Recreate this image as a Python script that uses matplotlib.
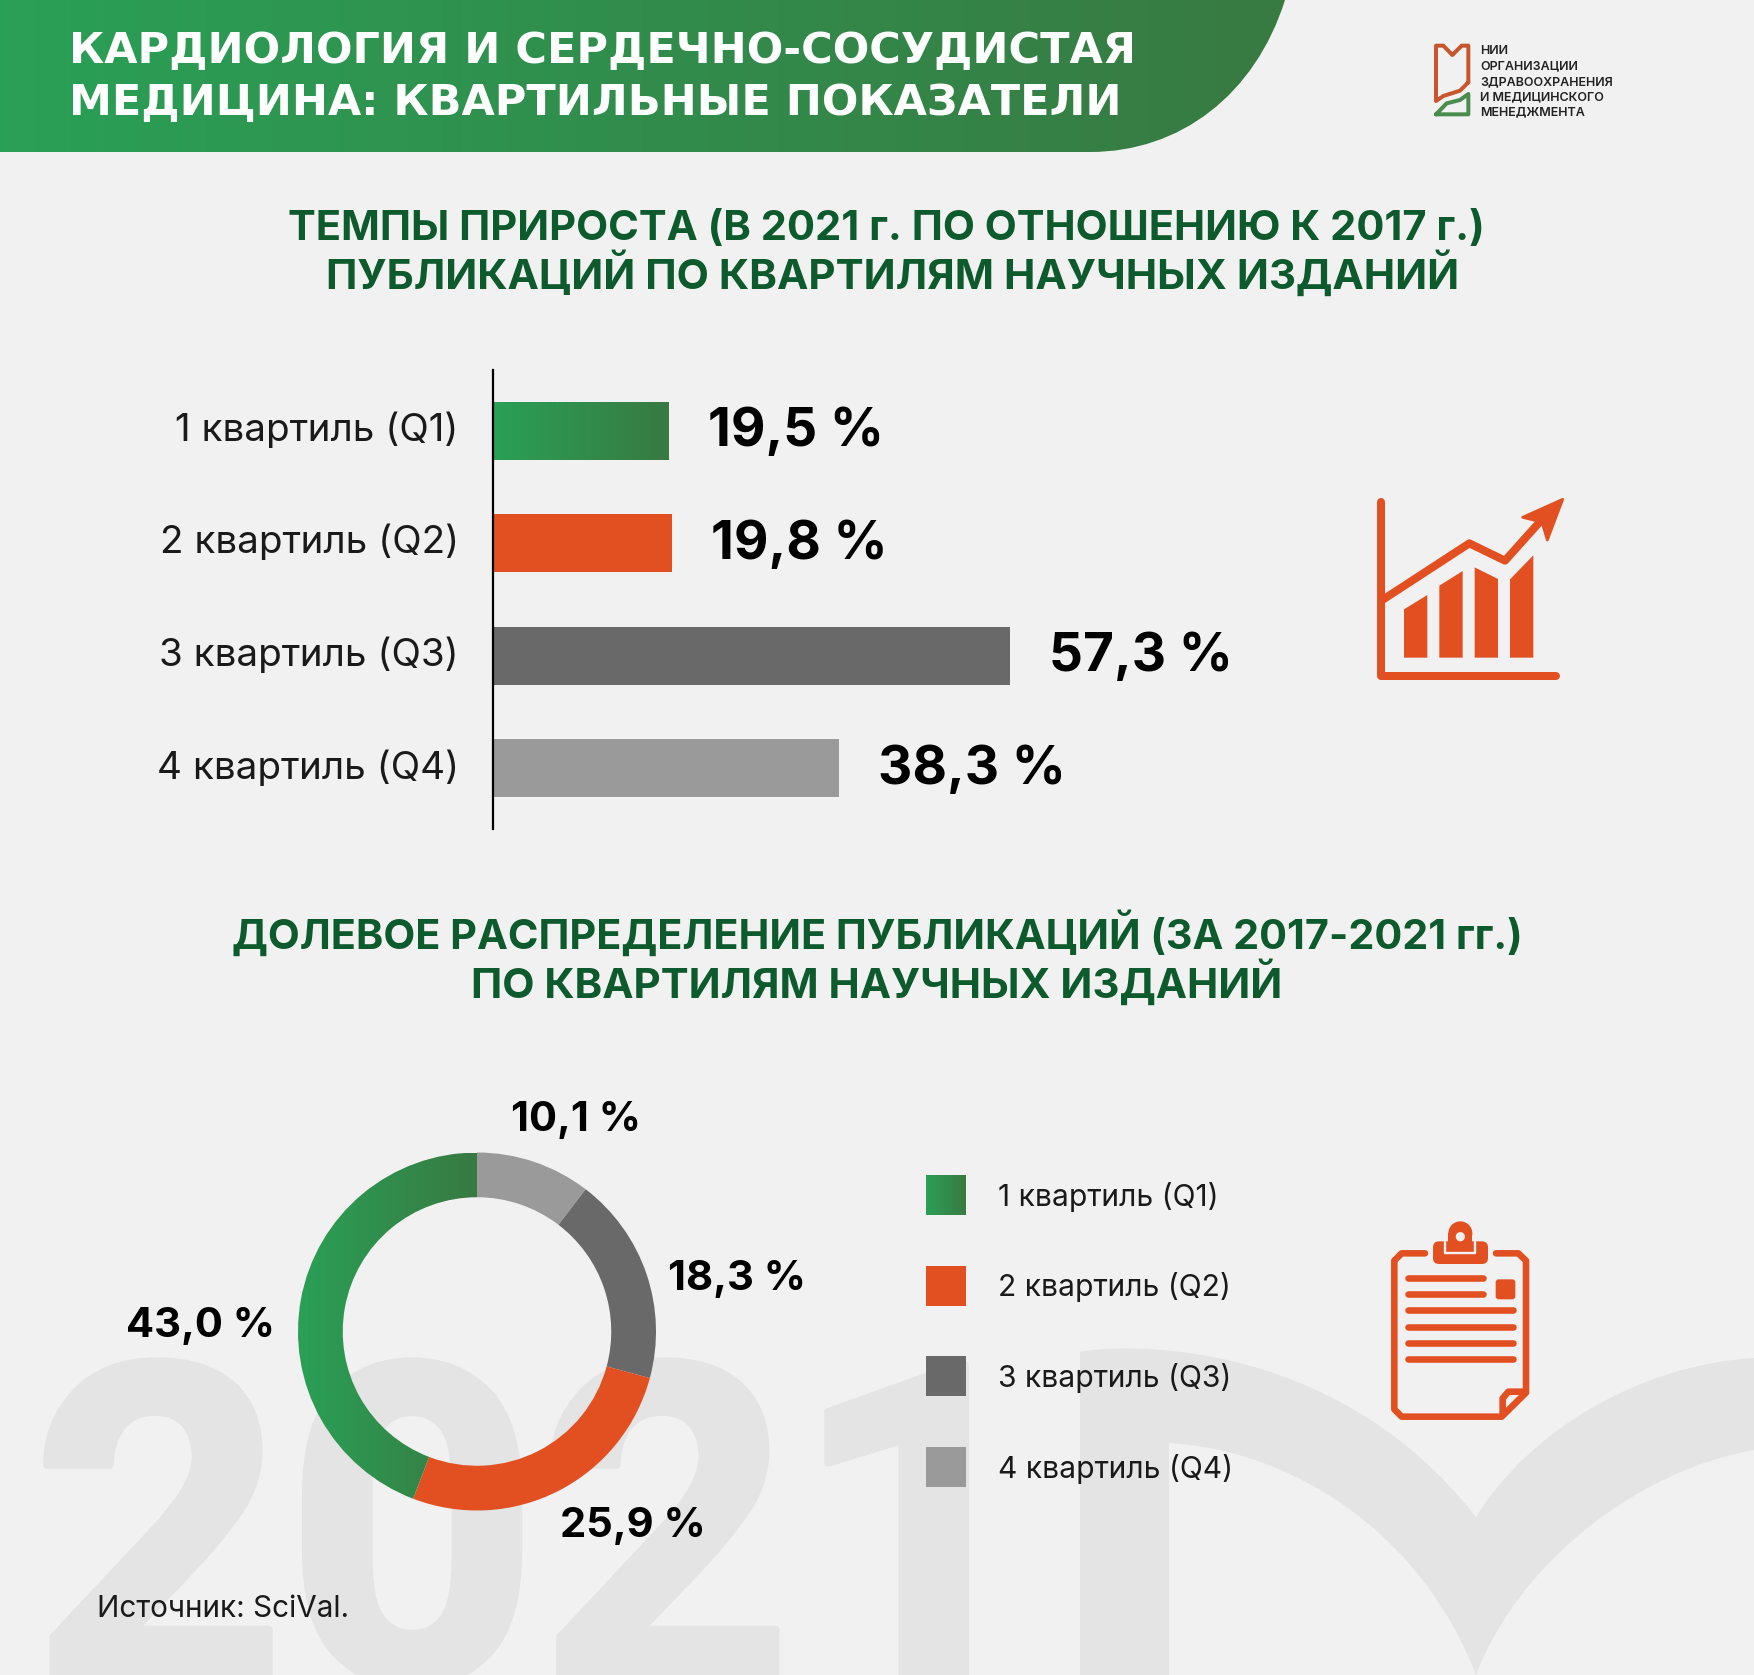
import numpy as np
import matplotlib
matplotlib.use('Agg')
import matplotlib.pyplot as plt
import matplotlib.patheffects as pe
from matplotlib.colors import LinearSegmentedColormap
from matplotlib.patches import Polygon, Rectangle, PathPatch, FancyBboxPatch, Circle
from matplotlib.path import Path

W, H = 1754, 1675
FONT = ['Inter', 'DejaVu Sans']
plt.rcParams['font.family'] = FONT

# данные
quartiles = ['1 квартиль (Q1)', '2 квартиль (Q2)', '3 квартиль (Q3)', '4 квартиль (Q4)']
growth = [19.5, 19.8, 57.3, 38.3]
share = [10.1, 18.3, 25.9, 43.0]
bar_colors = ['#2fa35a', '#e25022', '#696969', '#9a9a9a']
share_colors = ['#9a9a9a', '#696969', '#e25022', '#2fa35a']

BG = '#f1f1f1'
ORANGE = '#e25022'
TITLE = '#0d5a2c'
WATER = '#e4e4e4'
green_grad = LinearSegmentedColormap.from_list('gr', ['#2aa056', '#387a42'])
grad = np.linspace(0, 1, 256).reshape(1, -1)


def fill_grad(ax, patch, extent):
    im = ax.imshow(grad, cmap=green_grad, extent=extent, aspect='auto', zorder=patch.get_zorder())
    im.set_clip_path(patch)


fig = plt.figure(figsize=(W / 100, H / 100), dpi=100, facecolor=BG)
bg = fig.add_axes([0, 0, 1, 1])
bg.set_axis_off()

# фон: 2021 и контур логотипа
bg.text(32, 1680, '2021', fontsize=318, fontweight='bold', family='Roboto', color=WATER,
        ha='left', va='baseline', clip_on=True, zorder=0,
        path_effects=[pe.withStroke(linewidth=6, foreground=WATER)])
mark = Path(
    [(1080, 1352), (1110, 1345), (1330, 1330), (1476, 1517),
     (1530, 1430), (1640, 1365), (1754, 1358),
     (1754, 1450), (1754, 1450), (1754, 1450),
     (1640, 1470), (1520, 1560), (1476, 1675),
     (1420, 1530), (1290, 1450), (1169, 1443),
     (1169, 1675), (1080, 1675), (1080, 1352)],
    [Path.MOVETO, Path.CURVE4, Path.CURVE4, Path.CURVE4,
     Path.CURVE4, Path.CURVE4, Path.CURVE4,
     Path.CURVE4, Path.CURVE4, Path.CURVE4,
     Path.CURVE4, Path.CURVE4, Path.CURVE4,
     Path.CURVE4, Path.CURVE4, Path.CURVE4,
     Path.LINETO, Path.LINETO, Path.CLOSEPOLY])
bg.add_patch(PathPatch(mark, fc=WATER, ec='none', zorder=0))

# шапка
head = Path([(0, 0), (1285, 0), (1255, 95), (1180, 152), (1090, 152), (0, 152), (0, 0)],
            [Path.MOVETO, Path.LINETO, Path.CURVE4, Path.CURVE4, Path.CURVE4, Path.LINETO, Path.CLOSEPOLY])
hp = PathPatch(head, fc='none', ec='none')
bg.add_patch(hp)
fill_grad(bg, hp, (0, 1285, 152, 0))
bg.text(69, 63, 'КАРДИОЛОГИЯ И СЕРДЕЧНО-СОСУДИСТАЯ', fontsize=31, fontweight='bold', family='DejaVu Sans', color='white')
bg.text(69, 115, 'МЕДИЦИНА: КВАРТИЛЬНЫЕ ПОКАЗАТЕЛИ', fontsize=31, fontweight='bold', family='DejaVu Sans', color='white')

# заголовки
bg.text(886, 240, 'ТЕМПЫ ПРИРОСТА (В 2021 г. ПО ОТНОШЕНИЮ К 2017 г.)', fontsize=30, fontweight='bold', color=TITLE, ha='center')
bg.text(893, 289, 'ПУБЛИКАЦИЙ ПО КВАРТИЛЯМ НАУЧНЫХ ИЗДАНИЙ', fontsize=30.3, fontweight='bold', color=TITLE, ha='center')
bg.text(877, 949, 'ДОЛЕВОЕ РАСПРЕДЕЛЕНИЕ ПУБЛИКАЦИЙ (ЗА 2017-2021 гг.)', fontsize=29.8, fontweight='bold', color=TITLE, ha='center')
bg.text(877, 998, 'ПО КВАРТИЛЯМ НАУЧНЫХ ИЗДАНИЙ', fontsize=30.2, fontweight='bold', color=TITLE, ha='center')


def lz(x, y):
    return 1340 + x / 3, 20 + y / 3


def stroke(pts, color, lw, conv):
    a = np.array([conv(*p) for p in pts])
    bg.plot(a[:, 0], a[:, 1], color=color, lw=lw * 0.72, solid_capstyle='round', solid_joinstyle='round')


# логотип
stroke([(385, 187), (360, 212), (310, 228), (288, 243), (288, 77), (310, 77), (337, 105), (365, 77), (385, 77), (385, 187)], '#c8562c', 4, lz)
stroke([(288, 283), (385, 283), (385, 222), (360, 240), (320, 250), (288, 283)], '#4a8c4e', 4, lz)
logo_lines = ['НИИ', 'ОРГАНИЗАЦИИ', 'ЗДРАВООХРАНЕНИЯ', 'И МЕДИЦИНСКОГО', 'МЕНЕДЖМЕНТА']
for line, yy in zip(logo_lines, [54, 69.5, 85, 100, 115]):
    bg.text(1480, yy, line, fontsize=9, fontweight='semibold', color='#222222')


# иконка графика
def cz(x, y):
    return 1340 + x / 3, 470 + y / 3


stroke([(124, 95), (124, 618), (648, 618)], ORANGE, 8, cz)
stroke([(124, 392), (388, 220), (495, 272), (600, 155)], ORANGE, 8, cz)
bg.add_patch(Polygon([cz(*p) for p in [(668, 88), (548, 142), (606, 156), (622, 210)]], fc=ORANGE, ec=ORANGE, lw=2, joinstyle='round'))
for poly in ([(192, 418), (262, 375), (262, 563), (192, 563)],
             [(298, 347), (368, 303), (368, 563), (298, 563)],
             [(404, 292), (474, 327), (474, 563), (404, 563)],
             [(510, 328), (580, 256), (580, 563), (510, 563)]):
    bg.add_patch(Polygon([cz(*p) for p in poly], fc=ORANGE, ec='none'))


# иконка планшета
def dz(x, y):
    return 1360 + x / 3, 1200 + y / 3


stroke([(195, 160), (125, 160), (103, 182), (103, 628), (125, 650), (425, 650), (498, 578), (498, 182), (475, 160), (408, 160)], ORANGE, 6.6, dz)
stroke([(428, 640), (428, 595), (445, 575), (495, 575)], ORANGE, 6.6, dz)
for yy, x2 in zip([234, 283, 331, 380, 429, 478], [370, 370, 458, 458, 458, 458]):
    stroke([(145, yy), (x2, yy)], ORANGE, 6.6, dz)
x0, y0 = dz(225, 130)
x1, y1 = dz(378, 186)
bg.add_patch(FancyBboxPatch((x0, y0), x1 - x0, y1 - y0, boxstyle='round,pad=2,rounding_size=6', fc=ORANGE, ec='none'))
stroke([(255, 125), (255, 160), (345, 160), (345, 125)], BG, 2.4, dz)
x0, y0 = dz(265, 100)
x1, y1 = dz(337, 156)
bg.add_patch(Rectangle((x0, y0), x1 - x0, y1 - y0, fc=ORANGE, ec='none'))
bg.add_patch(Circle(dz(301, 100), 12, fc=ORANGE, ec='none'))
bg.add_patch(Circle(dz(301, 110), 4.6, fc=BG, ec='none'))
x0, y0 = dz(410, 241)
x1, y1 = dz(463, 295)
bg.add_patch(FancyBboxPatch((x0, y0), x1 - x0, y1 - y0, boxstyle='round,pad=1,rounding_size=3', fc=ORANGE, ec='none'))

# легенда
for i, (lab, col) in enumerate(zip(quartiles, bar_colors)):
    yc = [1195, 1285.5, 1376, 1466.5][i]
    r = Rectangle((926, yc - 20), 40, 40, fc=col, ec='none')
    bg.add_patch(r)
    if i == 0:
        r.set_facecolor('none')
        fill_grad(bg, r, (926, 966, yc + 20, yc - 20))
    bg.text(998, yc + 2, lab, fontsize=21.6, color='#1a1a1a', va='center')

# подписи кольца
for lab, (xx, yy) in zip(share, [(576, 1120), (737, 1279), (633, 1526), (201, 1326)]):
    bg.text(xx, yy, f'{lab:.1f} %'.replace('.', ','), fontsize=30, fontweight='bold', color='black', ha='center', va='center')

bg.text(97, 1609, 'Источник: SciVal.', fontsize=21.4, color='#1a1a1a', va='center')

bg.set_xlim(0, W)
bg.set_ylim(H, 0)

# столбцы
ax = fig.add_axes([493.5 / W, 1 - 829 / H, 640 / W, 459 / H])
ax.patch.set_alpha(0)
pos = np.arange(len(growth))
bars = ax.barh(pos, growth, height=0.515, color=bar_colors)
bars[0].set_facecolor('none')
fill_grad(ax, bars[0], (0, growth[0], pos[0] + 0.2575, pos[0] - 0.2575))
ax.set_xlim(0, 640 / 9.02)
ax.set_ylim(3.54, -0.54)
ax.set_yticks(pos, quartiles, fontsize=27.8, color='#1a1a1a', va='center')
ax.tick_params(axis='y', length=0, pad=25)
ax.xaxis.set_visible(False)
for s in ['top', 'right', 'bottom']:
    ax.spines[s].set_visible(False)
ax.spines['left'].set_linewidth(1.6)
for p, v in zip(pos, growth):
    ax.annotate(f'{v:.1f} %'.replace('.', ','), (v, p), xytext=(28, -1), textcoords='offset points',
                fontsize=38.3, fontweight='bold', color='black', va='center', annotation_clip=False)

# кольцо
R = 179
ax2 = fig.add_axes([(477 - R) / W, 1 - (1331.5 + R) / H, 2 * R / W, 2 * R / H])
wedges, _ = ax2.pie(share, colors=share_colors, startangle=90, counterclock=False, radius=1,
                    wedgeprops=dict(width=0.25, linewidth=0))
wedges[-1].set_facecolor('none')
fill_grad(ax2, wedges[-1], (-1, 0, -1, 1))
ax2.set_xlim(-1, 1)
ax2.set_ylim(-1, 1)

fig.savefig('out.png', dpi=100, facecolor=BG)
